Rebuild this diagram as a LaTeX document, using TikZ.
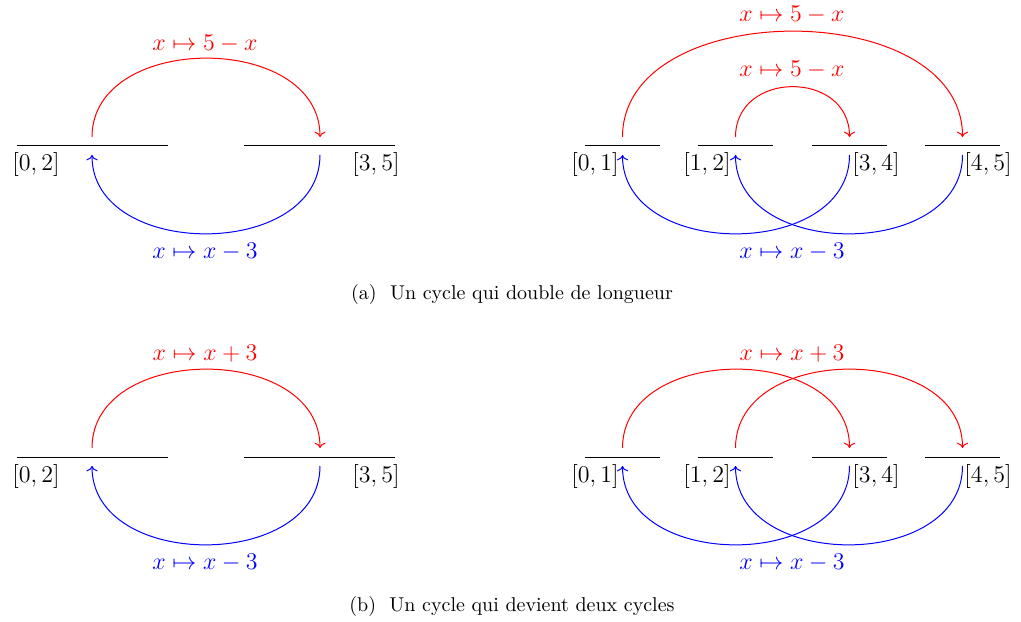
\documentclass[tikz,border=0pt]{standalone}
\usepackage{amsmath}
\usepackage{tikz}
\usetikzlibrary{arrows.meta,calc,positioning}
\tikzset{
  seg/.style       = {line width=0.5pt},
  redmap/.style    = {red, ->, line width=0.5pt},
  bluemap/.style   = {blue, ->, line width=0.5pt},
  maplabel/.style  = {font=\large},
  intlabel/.style  = {font=\large},
  captext/.style   = {font=\normalsize},
}

\begin{document}
\begin{tikzpicture}[x=0.5pt,y=0.5pt]
  \useasboundingbox (0,0) rectangle (1021,621);

  % (a) left: [0,2] and [3,5]
  \draw[seg] (17,475) -- (168,475);
  \draw[seg] (244,475) -- (395,475);
  \node[intlabel] (ia02) at (36,456) {$[0,2]$};
  \node[intlabel] (ia35) at (376,456) {$[3,5]$};
  \coordinate (pa02u) at (92,484);  \coordinate (pa02d) at (92,466);
  \coordinate (pa35u) at (320,484); \coordinate (pa35d) at (320,466);
  \draw[redmap]  (pa02u) .. controls +(0,105) and +(0,105) .. (pa35u);
  \draw[bluemap] (pa35d) .. controls +(0,-105) and +(0,-105) .. (pa02d);
  \node[maplabel,red]  (ra) at (205,577) {$x\mapsto 5-x$};
  \node[maplabel,blue] (ba) at (205,369) {$x\mapsto x-3$};

  % (a) right: four pieces
  \foreach \xl/\xr in {585/660,698/773,812/887,925/1000}
    \draw[seg] (\xl,475) -- (\xr,475);
  \node[intlabel] (ia01) at (595,456) {$[0,1]$};
  \node[intlabel] (ia12) at (707,456) {$[1,2]$};
  \node[intlabel] (ia34) at (876,456) {$[3,4]$};
  \node[intlabel] (ia45) at (988,456) {$[4,5]$};
  \coordinate (qa01u) at (622.5,484); \coordinate (qa01d) at (622.5,466);
  \coordinate (qa12u) at (735.5,484); \coordinate (qa12d) at (735.5,466);
  \coordinate (qa34u) at (849.5,484); \coordinate (qa34d) at (849.5,466);
  \coordinate (qa45u) at (962.5,484); \coordinate (qa45d) at (962.5,466);
  \draw[redmap]  (qa01u) .. controls +(0,141) and +(0,141) .. (qa45u);
  \draw[redmap]  (qa12u) .. controls +(0,67) and +(0,67) .. (qa34u);
  \draw[bluemap] (qa34d) .. controls +(0,-105) and +(0,-105) .. (qa01d);
  \draw[bluemap] (qa45d) .. controls +(0,-105) and +(0,-105) .. (qa12d);
  \node[maplabel,red]  (rab) at (792,606) {$x\mapsto 5-x$};
  \node[maplabel,red]  (ras) at (792,551) {$x\mapsto 5-x$};
  \node[maplabel,blue] (bar) at (792,369) {$x\mapsto x-3$};

  \node[captext] (capa) at (512,326) {(a)~~Un cycle qui double de longueur};

  % (b) left
  \draw[seg] (17,164) -- (168,164);
  \draw[seg] (244,164) -- (395,164);
  \node[intlabel] (ib02) at (36,145) {$[0,2]$};
  \node[intlabel] (ib35) at (376,145) {$[3,5]$};
  \coordinate (pb02u) at (92,173);  \coordinate (pb02d) at (92,155);
  \coordinate (pb35u) at (320,173); \coordinate (pb35d) at (320,155);
  \draw[redmap]  (pb02u) .. controls +(0,105) and +(0,105) .. (pb35u);
  \draw[bluemap] (pb35d) .. controls +(0,-105) and +(0,-105) .. (pb02d);
  \node[maplabel,red]  (rb) at (205,267) {$x\mapsto x+3$};
  \node[maplabel,blue] (bb) at (205,58) {$x\mapsto x-3$};

  % (b) right
  \foreach \xl/\xr in {585/660,698/773,812/887,925/1000}
    \draw[seg] (\xl,164) -- (\xr,164);
  \node[intlabel] (ib01) at (595,145) {$[0,1]$};
  \node[intlabel] (ib12) at (707,145) {$[1,2]$};
  \node[intlabel] (ib34) at (876,145) {$[3,4]$};
  \node[intlabel] (ib45) at (988,145) {$[4,5]$};
  \coordinate (qb01u) at (622.5,173); \coordinate (qb01d) at (622.5,155);
  \coordinate (qb12u) at (735.5,173); \coordinate (qb12d) at (735.5,155);
  \coordinate (qb34u) at (849.5,173); \coordinate (qb34d) at (849.5,155);
  \coordinate (qb45u) at (962.5,173); \coordinate (qb45d) at (962.5,155);
  \draw[redmap]  (qb01u) .. controls +(0,105) and +(0,105) .. (qb34u);
  \draw[redmap]  (qb12u) .. controls +(0,105) and +(0,105) .. (qb45u);
  \draw[bluemap] (qb34d) .. controls +(0,-105) and +(0,-105) .. (qb01d);
  \draw[bluemap] (qb45d) .. controls +(0,-105) and +(0,-105) .. (qb12d);
  \node[maplabel,red]  (rbr) at (792,267) {$x\mapsto x+3$};
  \node[maplabel,blue] (bbr) at (792,58) {$x\mapsto x-3$};

  \node[captext] (capb) at (512,15) {(b)~~Un cycle qui devient deux cycles};
\end{tikzpicture}
\end{document}
